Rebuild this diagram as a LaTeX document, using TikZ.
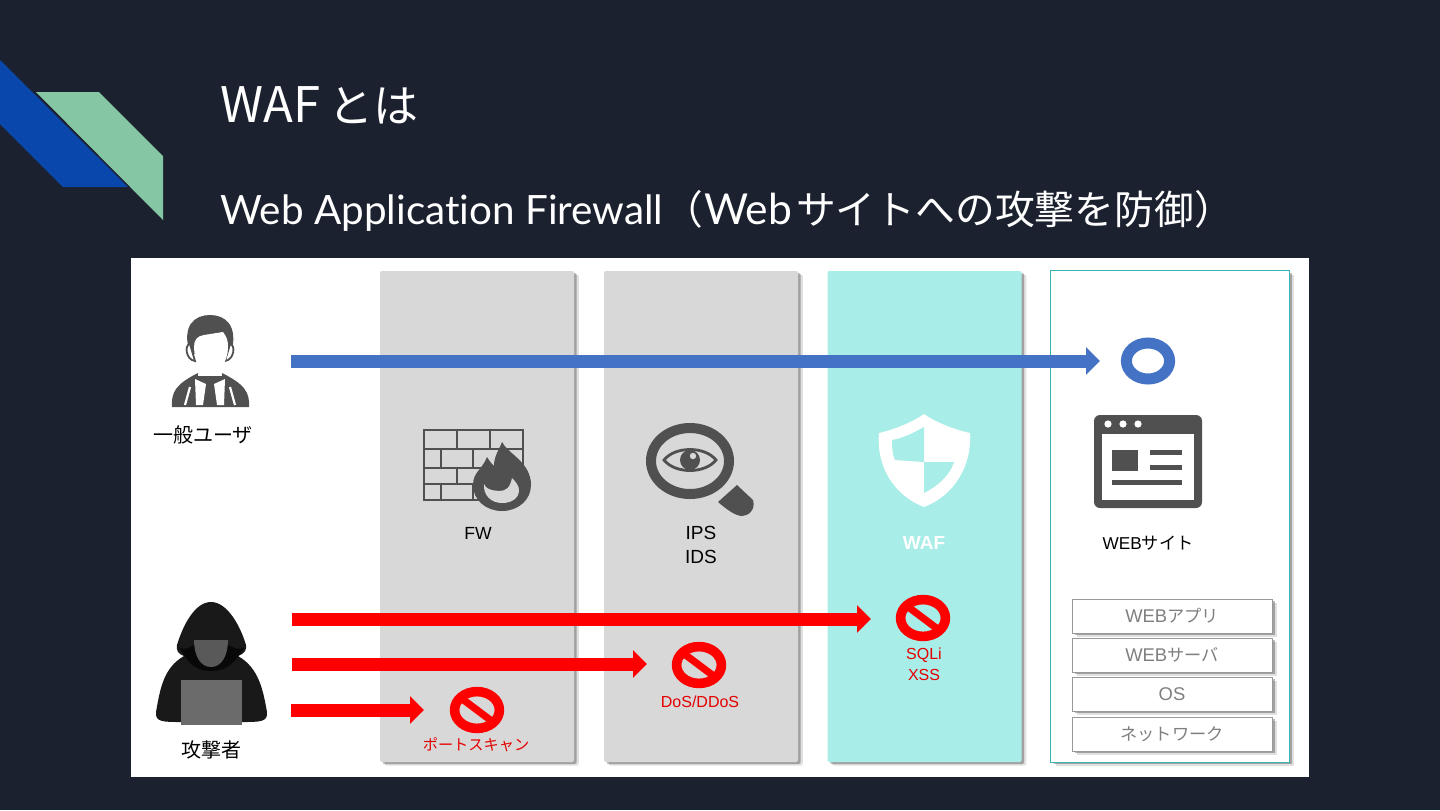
\documentclass[tikz,border=0pt]{standalone}
\usepackage{fontspec}
\usetikzlibrary{arrows.meta,shadows}
\setmainfont{Liberation Sans}
\newfontfamily\latof[Ligatures=NoCommon]{Lato}
\newfontfamily\cjk{Noto Sans CJK JP}
\definecolor{bgc}{HTML}{1B212E}
\definecolor{logoblue}{HTML}{0A47AD}
\definecolor{logogreen}{HTML}{85C7A5}
\definecolor{panelgray}{HTML}{D8D8D8}
\definecolor{panelteal}{HTML}{A8EDE8}
\definecolor{edgeteal}{HTML}{38B2B2}
\definecolor{okblue}{HTML}{4472C4}
\definecolor{icon}{HTML}{505050}
\definecolor{stacktext}{HTML}{7F7F7F}
\newcommand{\sizeA}{\fontsize{20.2}{26}\selectfont}
\newcommand{\sizeB}{\fontsize{19.9}{26}\selectfont}
\newcommand{\sizeC}{\fontsize{21.3}{26}\selectfont}
\newcommand{\stackjp}[1]{{\cjk\fontsize{8.6}{12}\selectfont #1}}
\tikzset{
  softshadow/.style={general shadow={shadow xshift=2.4pt,shadow yshift=-1.8pt,fill=black,opacity=.12},
                     general shadow={shadow xshift=1.3pt,shadow yshift=-1pt,fill=black,opacity=.28}},
  panel/.style={inner sep=0pt,rounded corners=1pt,softshadow,minimum width=97pt,minimum height=245.5pt},
  stackbox/.style={draw=gray!80,line width=.5pt,fill=white,inner sep=0pt,minimum width=100pt,minimum height=17pt,
    text=stacktext,font=\fontsize{9.2}{12}\selectfont,softshadow},
  label/.style={inner sep=0pt,font=\fontsize{9.5}{12}\selectfont,text=black},
  redlabel/.style={inner sep=0pt,font=\fontsize{8}{10}\selectfont,text=red!90!black},
  titletext/.style={inner sep=0pt,anchor=base west,text=white},
  okarrow/.style={draw=okblue,line width=6.5pt,-{Triangle[length=7pt,width=13.5pt]}},
  badarrow/.style={draw=red,line width=6.5pt,-{Triangle[length=7pt,width=13.5pt]}},
  ban/.style={draw=red,line width=4.8pt},
}
\begin{document}
\begin{tikzpicture}[x=.5pt,y=-.5pt]
\useasboundingbox (0,0) rectangle (1440,810);
\fill[bgc] (0,0) rectangle (1440,810);
% logo
\fill[logoblue] (0,60) -- (128,187) -- (63,187) -- (0,124) -- cycle;
\fill[logogreen] (36,92) -- (99,92) -- (163,156) -- (163,220) -- cycle;
% titles
\node[titletext,font=\fontsize{24.5}{30}\selectfont] (title) at (220,122) {\cjk WAF\kern4pt\fontsize{22.5}{30}\selectfont とは};
\node[titletext,font=\sizeA] (subtitle) at (220,224.5) {\latof Web Application Firewall\cjk\sizeB （\kern.5pt\latof\sizeC Web\kern2pt\cjk\sizeB サイトへの攻撃を防御）};
% white sheet
\fill[white] (131,258) rectangle (1309,777);
% panels
\node[panel,fill=panelgray] (fw) at (477,516.5) {};
\node[panel,fill=panelgray] (ips) at (701,516.5) {};
\node[panel,fill=panelteal] (wafp) at (924.5,516.5) {};
\node[panel,fill=white,rounded corners=0pt,minimum width=119pt] (web) at (1170,516.5) {};
\draw[edgeteal,line width=.55pt] (web.north west) rectangle (web.south east);
% person
\fill[icon] (172,407) .. controls (171,392) and (176,384) .. (198,373) -- (222,373) .. controls (244,384) and (250,392) .. (249,407) -- cycle;
\fill[white] (195,379) -- (206,384) -- (203,405) -- (196,405) -- cycle;
\fill[white] (225,379) -- (214,384) -- (217,405) -- (224,405) -- cycle;
\fill[icon] (207,385) -- (213,385) -- (215,406) -- (205,406) -- cycle;
\draw[white,line width=1.1pt] (190,387) -- (185,405);
\draw[white,line width=1.1pt] (230,387) -- (235,405);
\fill[icon] (190,354) .. controls (181,325) and (195,315) .. (210,315) .. controls (225,315) and (239,325) .. (231,354) -- cycle;
\draw[icon,line width=.9pt,fill=white] (190,344) .. controls (184,345) and (186,360) .. (195,361) -- cycle;
\draw[icon,line width=.9pt,fill=white] (230,344) .. controls (236,345) and (234,360) .. (225,361) -- cycle;
\fill[white] (198,365) rectangle (222,376);
\fill[white] (194,347) .. controls (194,340) and (197,336) .. (204,335) -- (223,332) .. controls (227,337) and (228,341) .. (228,347) .. controls (228,362) and (219,373) .. (211,373) .. controls (203,373) and (194,362) .. (194,347) -- cycle;
% hacker
\fill[black!90] (156,712) .. controls (160,690) and (163,668) .. (184,656) .. controls (178,654) and (176,650) .. (177,645) .. controls (183,625) and (195,602) .. (211,602) .. controls (227,602) and (240,625) .. (246,645) .. controls (247,650) and (244,654) .. (238,656) .. controls (259,668) and (263,690) .. (267,712) .. controls (268,722) and (260,722) .. (242,722) -- (181,722) .. controls (163,722) and (155,722) .. (156,712) -- cycle;
\fill[black!97] (180,648) .. controls (190,668) and (200,671) .. (211,671) .. controls (222,671) and (232,668) .. (244,648) .. controls (232,652) and (228,640) .. (211,640) .. controls (194,640) and (190,652) .. (180,648) -- cycle;
\fill[black!65] (194,640) -- (228,640) .. controls (228,655) and (222,667) .. (211,667) .. controls (200,667) and (194,655) .. (194,640) -- cycle;
\fill[black!58] (181,680) rectangle (242,725);
% firewall
\begin{scope}[icon,line width=1.25pt]
\draw (424,430) rectangle (523,500);
\draw (424,449) -- (523,449) (424,468) -- (523,468) (424,484) -- (523,484);
\draw (457,430) -- (457,449) (490,430) -- (490,449);
\draw (441,449) -- (441,468) (473,449) -- (473,468) (506,449) -- (506,468);
\draw (457,468) -- (457,484) (490,468) -- (490,484);
\draw (441,484) -- (441,500) (473,484) -- (473,500);
\end{scope}
\fill[icon] (502,442) .. controls (508,454) and (531,462) .. (531,485) .. controls (531,500) and (518,511) .. (502,511) .. controls (486,511) and (473,500) .. (473,485) .. controls (473,472) and (482,470) .. (487,457) .. controls (490,462) and (492,464) .. (494,466) .. controls (494,456) and (499,450) .. (502,442) -- cycle;
\fill[panelgray] (502,503) .. controls (491,503) and (483,495) .. (484,484) .. controls (488,492) and (496,490) .. (499,491) .. controls (506,491) and (510,488) .. (512,478) .. controls (516,482) and (519,486) .. (519,490) .. controls (519,498) and (512,503) .. (502,503) -- cycle;
% magnifier
\draw[icon,line width=5pt] (690,461) ellipse [x radius=19.5pt,y radius=16.5pt];
\fill[icon] (737,485) -- (753,500) .. controls (756,510) and (748,516) .. (742,516) .. controls (735,516) and (725,508) .. (718,502) -- cycle;
\draw[icon,line width=1.4pt] (664,460) .. controls (675,446) and (705,446) .. (716,460) .. controls (705,474) and (675,474) .. (664,460) -- cycle;
\fill[icon] (690,460) circle (5pt);
\fill[panelgray] (693,456) circle (1.6pt);
% shield
\fill[white] (924,414) .. controls (935,422) and (955,430) .. (970,433) .. controls (972,465) and (955,495) .. (924,507) .. controls (893,495) and (876,465) .. (879,433) .. controls (893,430) and (913,422) .. (924,414) -- cycle;
\fill[panelteal] (924,427) -- (924,462) -- (895,460) .. controls (892,453) and (892,447) .. (892,440) .. controls (904,438) and (915,432) .. (924,427) -- cycle;
\fill[panelteal] (924,462) -- (954,462) .. controls (950,475) and (938,486) .. (924,493) -- cycle;
% window
\fill[icon,rounded corners=3pt] (1094,415) rectangle (1202,508);
\fill[white] (1102,434) rectangle (1194,500);
\foreach \xx in {1108,1123,1138} \fill[white] (\xx,424) circle (1.8pt);
\fill[icon] (1112,450) rectangle (1138,471);
\fill[icon] (1150,450) rectangle (1182,455);
\fill[icon] (1150,465) rectangle (1182,470);
\fill[icon] (1112,480) rectangle (1182,485);
% O and bans
\draw[okblue,line width=5.5pt] (1148,361) ellipse [x radius=10.8pt,y radius=9pt];
\coordinate (bana) at (477,710);
\coordinate (banb) at (699,665);
\coordinate (banc) at (923,618);
\foreach \c in {bana,banb,banc} {
  \draw[ban] (\c) ellipse [x radius=11.2pt,y radius=9.2pt];
  \draw[red,line width=3.6pt] ([xshift=-8pt,yshift=6pt]\c) -- ([xshift=8pt,yshift=-6pt]\c);
}
% connectors
\coordinate (userout) at (291,361);
\coordinate (userin) at (1100,361);
\coordinate (a1s) at (292,619);
\coordinate (a1e) at (871,619);
\coordinate (a2s) at (292,664);
\coordinate (a2e) at (647,664);
\coordinate (a3s) at (291,710);
\coordinate (a3e) at (424,710);
\draw[okarrow] (userout) -- (userin);
\draw[badarrow] (a1s) -- (a1e);
\draw[badarrow] (a2s) -- (a2e);
\draw[badarrow] (a3s) -- (a3e);
% labels
\node[label,font=\fontsize{10}{12}\selectfont\cjk] (lu) at (203,435) {一般ユーザ};
\node[label,font=\fontsize{10}{12}\selectfont\cjk] (la) at (211,750) {攻撃者};
\node[label,font=\fontsize{8.8}{12}\selectfont] (lfw) at (478,533) {FW};
\node[label] (lips) at (701,533) {IPS};
\node[label] (lids) at (701,557) {IDS};
\node[label,text=white,font=\fontsize{9.5}{12}\selectfont\bfseries] (lwaf) at (924,543) {WAF};
\node[label,font=\fontsize{8.6}{12}\selectfont] (lweb) at (1148,543) {WEB{\cjk サイト}};
\node[redlabel,font=\fontsize{7.6}{10}\selectfont\cjk] (lport) at (476,745) {ポートスキャン};
\node[redlabel] (ldos) at (700,702) {DoS/DDoS};
\node[redlabel] (lsql) at (924,655) {SQLi};
\node[redlabel] (lxss) at (924,675) {XSS};
% stack
\node[stackbox] (s1) at (1172,616) {WEB\stackjp{アプリ}};
\node[stackbox] (s2) at (1172,655) {WEB\stackjp{サーバ}};
\node[stackbox] (s3) at (1172,694) {OS};
\node[stackbox] (s4) at (1172,734) {\stackjp{ネットワーク}};
\end{tikzpicture}
\end{document}
